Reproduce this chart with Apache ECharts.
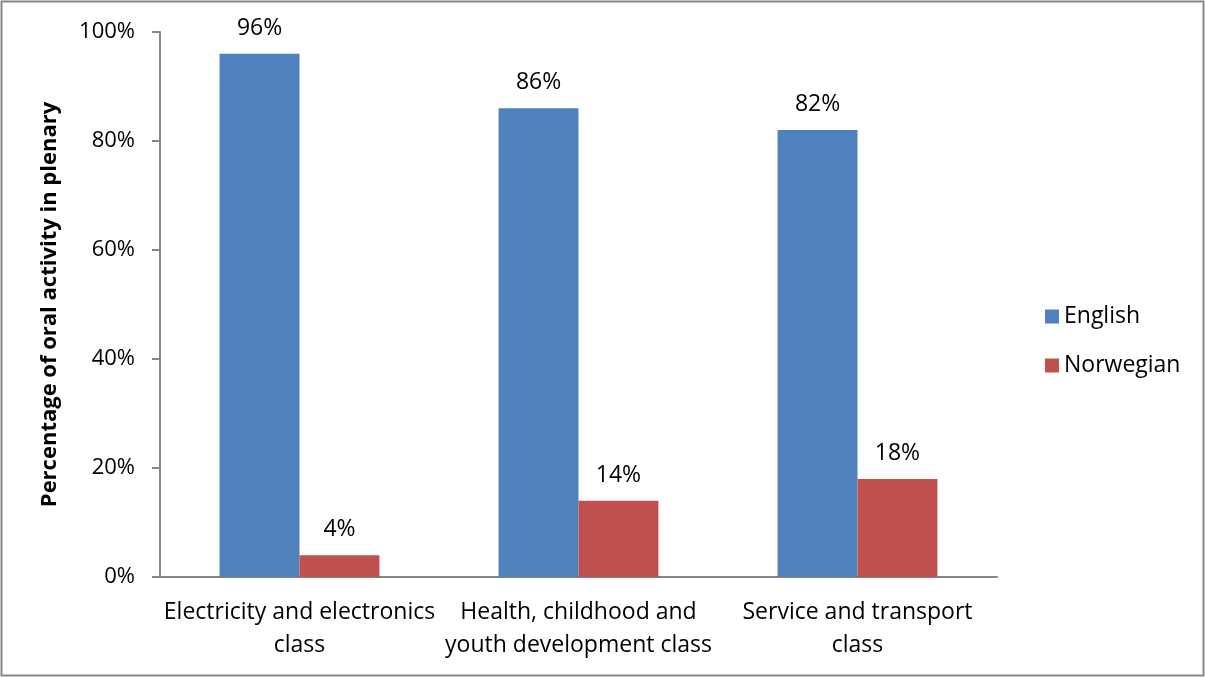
<!DOCTYPE html>
<html>
<head>
<meta charset="utf-8">
<script src="https://cdn.jsdelivr.net/npm/echarts@6/dist/echarts.min.js"></script>
<style>
  html, body { margin: 0; padding: 0; background: #fff; }
  #chart { width: 1205px; height: 677px; }
</style>
</head>
<body>
<div id="chart"></div>
<script>
// Share of oral activity in plenary, by language and class
const categories = [
  'Electricity and electronics\nclass',
  'Health, childhood and\nyouth development class',
  'Service and transport\nclass'
];
const englishValues = [96, 86, 82];
const norwegianValues = [4, 14, 18];
const yTicks = [0, 20, 40, 60, 80, 100];

const FONT = '"Open Sans", "Noto Sans", sans-serif';
const AXIS_GRAY = '#868686';

const chart = echarts.init(document.getElementById('chart'), null, { renderer: 'canvas' });

const labelStyle = {
  show: true,
  position: 'top',
  distance: 14,
  formatter: '{c}%',
  color: '#000',
  fontFamily: FONT,
  fontSize: 23
};

chart.setOption({
  animation: false,
  backgroundColor: '#fff',
  graphic: [{
    type: 'rect',
    shape: { x: 1.5, y: 1.5, width: 1202, height: 674 },
    style: { fill: 'none', stroke: AXIS_GRAY, lineWidth: 2 },
    silent: true
  }],
  grid: { left: 160, right: 208, top: 32, bottom: 100 },
  legend: {
    orient: 'vertical',
    left: 1040,
    top: 300,
    itemWidth: 14,
    itemHeight: 14,
    itemGap: 26,
    icon: 'rect',
    textStyle: { fontFamily: FONT, fontSize: 23, color: '#000', padding: [0, 0, 0, 0] },
    data: ['English', 'Norwegian']
  },
  xAxis: {
    type: 'category',
    data: categories,
    axisLine: { lineStyle: { color: AXIS_GRAY, width: 2 } },
    axisTick: { show: false },
    axisLabel: {
      interval: 0,
      margin: 19,
      color: '#000',
      fontFamily: FONT,
      fontSize: 23,
      lineHeight: 33
    }
  },
  yAxis: {
    type: 'value',
    min: yTicks[0],
    max: yTicks[yTicks.length - 1],
    interval: 20,
    name: 'Percentage of oral activity in plenary',
    nameLocation: 'middle',
    nameGap: 99,
    nameTextStyle: { fontFamily: FONT, fontSize: 22, fontWeight: 'bold', color: '#000' },
    axisLine: { show: true, lineStyle: { color: AXIS_GRAY, width: 2 } },
    axisTick: { show: true, length: 8, lineStyle: { color: AXIS_GRAY, width: 2 } },
    splitLine: { show: false },
    axisLabel: {
      formatter: '{value}%',
      margin: 25,
      color: '#000',
      fontFamily: FONT,
      fontSize: 22
    }
  },
  series: [
    {
      name: 'English',
      type: 'bar',
      data: englishValues,
      barGap: '0%',
      barCategoryGap: '42.7%',
      itemStyle: { color: '#4F81BD' },
      label: labelStyle
    },
    {
      name: 'Norwegian',
      type: 'bar',
      data: norwegianValues,
      barGap: '0%',
      barCategoryGap: '42.7%',
      itemStyle: { color: '#C0504D' },
      label: labelStyle
    }
  ]
});
</script>
</body>
</html>
